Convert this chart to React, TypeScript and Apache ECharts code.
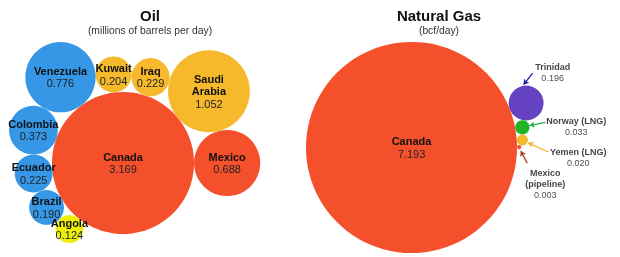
import React, { useEffect, useRef } from 'react';
import * as echarts from 'echarts';

// ---------- data ----------
const oilCountries = ['Canada', 'Mexico', 'Saudi Arabia', 'Iraq', 'Kuwait', 'Venezuela', 'Colombia', 'Ecuador', 'Brazil', 'Angola'];
const oilValues = [3.169, 0.688, 1.052, 0.229, 0.204, 0.776, 0.373, 0.225, 0.19, 0.124];

const gasCountries = ['Canada', 'Trinidad', 'Norway (LNG)', 'Yemen (LNG)', 'Mexico (pipeline)'];
const gasValues = [7.193, 0.196, 0.033, 0.02, 0.003];

const titles = ['Oil', 'Natural Gas'];
const subtitles = ['(millions of barrels per day)', '(bcf/day)'];

// ---------- styles ----------
const RED = '#f5502c';
const ORANGE = '#f6b92b';
const BLUE = '#3597e6';
const oilColors = [RED, RED, ORANGE, ORANGE, ORANGE, BLUE, BLUE, BLUE, BLUE, '#eeee0a'];
const gasColors = [RED, '#6442c2', '#22b422', ORANGE, RED];
const gasArrowColors = ['', '#1f1fa0', '#1fae4a', '#f0b42a', '#b83a22'];
const FONT = '"Liberation Sans", Arial, sans-serif';

// ---------- layout (packing chain around the largest bubble) ----------
const OIL_LAYOUT = { cx: 123, cy: 163, scale: 39.9, startAngle: 0, turn: -1 };
const GAS_LAYOUT = { cx: 411.5, cy: 147.5, scale: 39.35, startAngle: -21.2, turn: 1 };
const titleCenters = [145, 434];
// annotation offsets (px, relative to bubble centre) for the small gas bubbles
const gasLabelOffset = [null, [26.5, -30.5], [54, -1], [56, 17], [26, 37]];
const gasArrowFrom = [null, [6.5, -30], [23, -5], [26, 12], [8, 16]];
const gasArrowTo = [null, [-2.5, -18.5], [7.2, -1.8], [5.8, 2.8], [1.6, 4]];
const gasLabelBreak = [false, false, false, false, true];

function pack(values: number[], L: any) {
  const r = values.map((v) => L.scale * Math.sqrt(v));
  const pos: number[][] = [[L.cx, L.cy]];
  let ang = (L.startAngle * Math.PI) / 180;
  pos.push([L.cx + (r[0] + r[1]) * Math.cos(ang), L.cy + (r[0] + r[1]) * Math.sin(ang)]);
  for (let i = 2; i < values.length; i++) {
    const d = r[0] + r[i - 1];
    const e1 = r[0] + r[i];
    const e2 = r[i - 1] + r[i];
    const th = Math.acos((d * d + e1 * e1 - e2 * e2) / (2 * d * e1));
    ang += L.turn * th;
    pos.push([L.cx + e1 * Math.cos(ang), L.cy + e1 * Math.sin(ang)]);
  }
  return { pos, r };
}

const rich = {
  n: { fontFamily: FONT, fontWeight: 'bold', fontSize: 11, lineHeight: 12.5, color: '#111', align: 'center' },
  v: { fontFamily: FONT, fontSize: 11, lineHeight: 12.5, color: '#222', align: 'center' },
  sn: { fontFamily: FONT, fontWeight: 'bold', fontSize: 9, lineHeight: 11, color: '#111', align: 'center' },
  sv: { fontFamily: FONT, fontSize: 9, lineHeight: 11, color: '#222', align: 'center' },
};

export default function App() {
  const ref = useRef<HTMLDivElement>(null);
  useEffect(() => {
    const chart = echarts.init(ref.current!, undefined, { renderer: 'svg' });
    const oil = pack(oilValues, OIL_LAYOUT);
    const gas = pack(gasValues, GAS_LAYOUT);

    const oilData = oilCountries.map((name, i) => ({
      name,
      value: [oil.pos[i][0], oil.pos[i][1], oilValues[i]],
      symbolSize: oil.r[i] * 2,
      itemStyle: { color: oilColors[i], opacity: 1 },
    }));
    const gasData = gasCountries.map((name, i) => ({
      name,
      value: [gas.pos[i][0], gas.pos[i][1], gasValues[i]],
      symbolSize: gas.r[i] * 2,
      itemStyle: { color: gasColors[i], opacity: 1 },
      label: { show: i === 0 },
    }));
    const annData: any[] = [];
    const arrowData: any[] = [];
    gasCountries.forEach((name, i) => {
      if (!gasLabelOffset[i]) return;
      const [x, y] = gas.pos[i];
      annData.push({
        name: gasLabelBreak[i] ? name.replace(' ', '\n') : name,
        value: [x + gasLabelOffset[i]![0], y + gasLabelOffset[i]![1], gasValues[i]],
      });
      arrowData.push({
        coords: [
          [x + gasArrowFrom[i]![0], y + gasArrowFrom[i]![1]],
          [x + gasArrowTo[i]![0], y + gasArrowTo[i]![1]],
        ],
        lineStyle: { color: gasArrowColors[i] },
      });
    });

    const bubbleLabel = {
      show: true,
      position: 'inside',
      formatter: (p: any) =>
        p.name
          .split(' ')
          .map((w: string) => `{n|${w}}`)
          .join('\n') + `\n{v|${p.value[2].toFixed(3)}}`,
      rich,
    };

    chart.setOption({
      animation: false,
      title: titles.map((t, i) => ({
        text: t,
        subtext: subtitles[i],
        left: titleCenters[i],
        top: 3,
        textAlign: 'center',
        itemGap: 2,
        textStyle: { fontFamily: FONT, fontSize: 15, fontWeight: 'bold', color: '#111' },
        subtextStyle: { fontFamily: FONT, fontSize: 10.3, color: '#333' },
      })),
      grid: { left: 0, top: 0, right: 0, bottom: 0 },
      xAxis: { type: 'value', min: 0, max: 620, show: false },
      yAxis: { type: 'value', min: 0, max: 257, inverse: true, show: false },
      series: [
        {
          type: 'scatter',
          silent: true,
          data: oilData,
          label: bubbleLabel,
        },
        {
          type: 'scatter',
          silent: true,
          data: gasData,
          label: bubbleLabel,
        },
        {
          type: 'lines',
          coordinateSystem: 'cartesian2d',
          silent: true,
          symbol: ['none', 'arrow'],
          symbolSize: 5,
          lineStyle: { width: 1.3, opacity: 1 },
          data: arrowData,
        },
        {
          type: 'scatter',
          silent: true,
          symbolSize: 0,
          data: annData,
          label: {
            show: true,
            position: 'inside',
            formatter: (p: any) =>
              p.name
                .split('\n')
                .map((w: string) => `{sn|${w}}`)
                .join('\n') + `\n{sv|${p.value[2].toFixed(3)}}`,
            rich,
          },
        },
      ],
    });
    return () => chart.dispose();
  }, []);
  return <div ref={ref} style={{ position: 'fixed', left: 0, top: 0, width: 620, height: 257 }} />;
}
